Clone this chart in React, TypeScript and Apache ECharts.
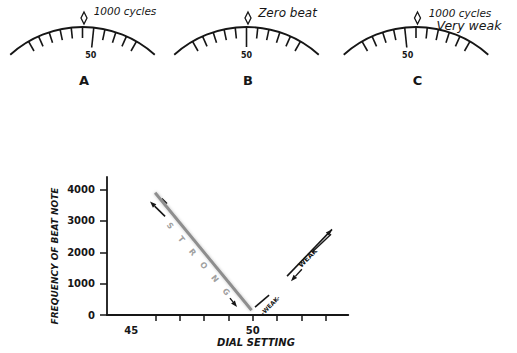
import React, { useEffect, useRef } from "react";
import * as echarts from "echarts";

// ---- data ----
const xTickValues = [46, 47, 48, 49, 50, 51, 52, 53];
const xLabelValues = [45, 50];
const yTickValues = [0, 1000, 2000, 3000, 4000];
const descendingLine = [[45.98, 3900], [49.95, 150]];
const ascendingLow = [[50.09, 254], [50.67, 635]];
const ascendingHigh = [[51.41, 1238], [53.26, 2730]];

// annotations (data coordinates)
const strongArrowUp = [[46.39, 3143], [45.77, 3619]];
const strongArrowDown = [[49.06, 540], [49.35, 254]];
const strongStub = [[46.26, 3714], [46.47, 3556]];
const strongLetters = ["S", "T", "R", "O", "N", "G"];
const strongSpan = [[46.59, 2838], [48.9, 733]];
const weakArrowDown = [[52.02, 1460], [51.57, 1079]];
const weakSegment = [[52.48, 2032], [53.22, 2571]];
const weakLabel = [52.27, 1810];
const weakSmallLabel = [50.71, 317];

const dials = [
  { letter: "A", cx: 82.5, major: 1, notes: ["1000 cycles"] },
  { letter: "B", cx: 246.5, major: 0, notes: ["Zero beat"] },
  { letter: "C", cx: 416, major: -1, notes: ["1000 cycles", "Very weak"] },
];
const noteLayout = [
  [{ x: 125, y: 10.5, size: 10.5 }],
  [{ x: 287.5, y: 12.5, size: 12 }],
  [
    { x: 460, y: 12.5, size: 10.5 },
    { x: 469, y: 25.5, size: 12.5 },
  ],
];

const INK = "#161616";

function dialGraphics(d: any, idx: number) {
  const R = 108;
  const top = 27;
  const cy = top + R;
  const cx = d.cx;
  const els: any[] = [];
  const half = (42 * Math.PI) / 180;
  els.push({
    type: "arc",
    shape: { cx, cy, r: R, startAngle: -Math.PI / 2 - half, endAngle: -Math.PI / 2 + half, clockwise: true },
    style: { stroke: INK, lineWidth: 1.8, fill: null },
  });
  for (let k = -5; k <= 5; k++) {
    const th = (k * 6 * Math.PI) / 180;
    const major = k === d.major;
    const len = major ? 20 : 11;
    const s = Math.sin(th);
    const c = Math.cos(th);
    els.push({
      type: "line",
      shape: { x1: cx + R * s, y1: cy - R * c, x2: cx + (R - len) * s, y2: cy - (R - len) * c },
      style: { stroke: INK, lineWidth: 1.6 },
    });
    if (major) {
      els.push({
        type: "text",
        x: cx + (R - 28) * s,
        y: cy - (R - 28) * c,
        style: { text: "50", font: "bold 8px 'DejaVu Sans', sans-serif", fill: INK, align: "center", verticalAlign: "middle" },
      });
    }
  }
  const px = cx + 1.5;
  els.push({
    type: "polygon",
    shape: { points: [[px, 12], [px + 3, 18], [px, 24], [px - 3, 18]] },
    style: { stroke: INK, lineWidth: 1.3, fill: "#fff" },
  });
  els.push({
    type: "text",
    x: cx + 1.5,
    y: 80,
    style: { text: d.letter, font: "bold 13px 'DejaVu Sans', sans-serif", fill: INK, align: "center", verticalAlign: "middle" },
  });
  d.notes.forEach((t: string, i: number) => {
    const L = noteLayout[idx][i];
    els.push({
      type: "text",
      x: L.x,
      y: L.y,
      style: { text: t, font: `italic ${L.size}px 'DejaVu Sans', sans-serif`, fill: INK, align: "center", verticalAlign: "middle" },
    });
  });
  return els;
}

export default function App() {
  const ref = useRef<HTMLDivElement>(null);
  useEffect(() => {
    const chart = echarts.init(ref.current!, null, { renderer: "svg" });
    const axisFont = { fontFamily: "'DejaVu Sans', sans-serif", fontWeight: "bold" as const, fontSize: 10, color: INK };
    chart.setOption({
      animation: false,
      backgroundColor: "#fff",
      grid: { left: 107, top: 177, width: 241.3, height: 138 },
      xAxis: {
        type: "value",
        min: 44,
        max: 53.93,
        interval: 1,
        axisLine: { show: true, lineStyle: { color: INK, width: 1.8 } },
        axisTick: { show: true, customValues: xTickValues, length: 6, lineStyle: { color: INK, width: 1.5 } },
        axisLabel: { show: true, customValues: xLabelValues, margin: 10, formatter: (v: number) => String(v), ...axisFont },
        splitLine: { show: false },
      },
      yAxis: {
        type: "value",
        min: 0,
        max: 4400,
        interval: 1000,
        axisLine: { show: true, lineStyle: { color: INK, width: 1.8 } },
        axisTick: { show: true, customValues: yTickValues, length: 7, lineStyle: { color: INK, width: 1.5 } },
        axisLabel: { show: true, customValues: yTickValues, margin: 12, formatter: (v: number) => String(v), ...axisFont },
        splitLine: { show: false },
      },
      series: [
        {
          type: "line",
          data: descendingLine,
          symbol: "none",
          silent: true,
          lineStyle: { color: "#8e8e8e", width: 3, shadowBlur: 3, shadowColor: "rgba(0,0,0,0.25)" },
        },
        { type: "line", data: ascendingLow, symbol: "none", silent: true, lineStyle: { color: INK, width: 1.6 } },
        { type: "line", data: ascendingHigh, symbol: "none", silent: true, lineStyle: { color: INK, width: 1.6 } },
      ],
    });

    const P = (p: number[]) => chart.convertToPixel({ gridIndex: 0 }, p) as number[];
    const seg = (pts: number[][], color: string, w: number) => {
      const a = P(pts[0]);
      const b = P(pts[1]);
      return { type: "line", shape: { x1: a[0], y1: a[1], x2: b[0], y2: b[1] }, style: { stroke: color, lineWidth: w } };
    };
    const arrow = (pts: number[][], color: string, w: number, drawShaft = true) => {
      const a = P(pts[0]);
      const b = P(pts[1]);
      const ang = Math.atan2(b[1] - a[1], b[0] - a[0]);
      const L = 6.5;
      const W = 2.4;
      const bx = b[0] - L * Math.cos(ang);
      const by = b[1] - L * Math.sin(ang);
      const out: any[] = [];
      if (drawShaft) out.push({ type: "line", shape: { x1: a[0], y1: a[1], x2: bx, y2: by }, style: { stroke: color, lineWidth: w } });
      out.push({
        type: "polygon",
        shape: {
          points: [
            [b[0], b[1]],
            [bx - W * Math.sin(ang), by + W * Math.cos(ang)],
            [bx + W * Math.sin(ang), by - W * Math.cos(ang)],
          ],
        },
        style: { fill: color },
      });
      return out;
    };
    const angleOf = (pts: number[][]) => {
      const a = P(pts[0]);
      const b = P(pts[pts.length - 1]);
      return Math.atan2(-(b[1] - a[1]), b[0] - a[0]);
    };
    const descRot = angleOf(descendingLine);
    const ascRot = angleOf([ascendingLow[0], ascendingHigh[1]]);

    const ann: any[] = [];
    ann.push(...arrow(strongArrowUp, INK, 1.6));
    ann.push(...arrow(strongArrowDown, INK, 1.4));
    ann.push(seg(strongStub, INK, 1.3));
    const s0 = P(strongSpan[0]);
    const s1 = P(strongSpan[1]);
    strongLetters.forEach((ch, i) => {
      const t = i / (strongLetters.length - 1);
      ann.push({
        type: "text",
        x: s0[0] + (s1[0] - s0[0]) * t,
        y: s0[1] + (s1[1] - s0[1]) * t,
        rotation: descRot,
        style: { text: ch, font: "bold 8px 'DejaVu Sans', sans-serif", fill: "#a0a0a0", align: "center", verticalAlign: "middle" },
      });
    });
    ann.push(...arrow([[53.0, 2520], ascendingHigh[1]], INK, 1.6, false));
    ann.push(...arrow(weakArrowDown, INK, 1.4));
    ann.push(seg(weakSegment, INK, 1.4));
    const wl = P(weakLabel);
    ann.push({
      type: "text",
      x: wl[0],
      y: wl[1],
      rotation: ascRot,
      style: { text: "WEAK", font: "bold 7px 'DejaVu Sans', sans-serif", fill: INK, align: "center", verticalAlign: "middle" },
    });
    const ws = P(weakSmallLabel);
    ann.push({
      type: "text",
      x: ws[0],
      y: ws[1],
      rotation: ascRot,
      style: { text: "-WEAK-", font: "bold 6px 'DejaVu Sans', sans-serif", fill: INK, align: "center", verticalAlign: "middle" },
    });

    const names: any[] = [
      {
        type: "text",
        x: 55,
        y: 256,
        rotation: Math.PI / 2,
        style: { text: "FREQUENCY OF BEAT NOTE", font: "italic bold 9px 'DejaVu Sans', sans-serif", fill: INK, align: "center", verticalAlign: "middle" },
      },
      {
        type: "text",
        x: 256,
        y: 342,
        style: { text: "DIAL SETTING", font: "italic bold 10px 'DejaVu Sans', sans-serif", fill: INK, align: "center", verticalAlign: "middle" },
      },
    ];

    const dialEls: any[] = [];
    dials.forEach((d, i) => dialEls.push(...dialGraphics(d, i)));

    chart.setOption({ graphic: [...dialEls, ...names, ...ann] });
    return () => chart.dispose();
  }, []);
  return <div ref={ref} style={{ position: "fixed", left: 0, top: 0, width: 517, height: 353, background: "#fff" }} />;
}
